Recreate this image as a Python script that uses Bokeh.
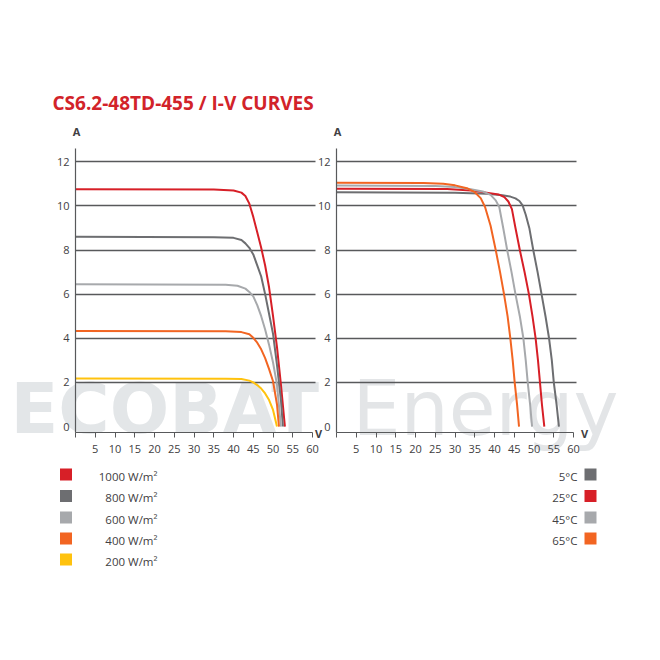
from bokeh.plotting import figure
from bokeh.models import FixedTicker, Label, BoxAnnotation, Range1d, LinearAxis, Grid
from bokeh.embed import file_html
from bokeh.resources import INLINE

# ---------------- data ----------------
title_text = "CS6.2-48TD-455 / I-V CURVES"
watermark_bold = "ECOBAT"
watermark_thin = "Energy"

irr_labels = ["1000 W/m\u00b2", "800 W/m\u00b2", "600 W/m\u00b2", "400 W/m\u00b2", "200 W/m\u00b2"]
irr_colors = ["#d71f27", "#6d6e71", "#a7a9ac", "#f26522", "#ffc20e"]

v_1000 = [0, 35, 40, 42, 43, 44, 45, 46, 47, 48, 49, 50, 51, 52, 53]
i_1000 = [10.75, 10.74, 10.7, 10.6, 10.45, 10.1, 9.5, 8.8, 8.1, 7.3, 6.3, 5.0, 3.6, 1.9, 0]
v_800 = [0, 35, 40, 42, 43, 44, 45, 46, 47, 48, 49, 50, 51, 52, 52.5]
i_800 = [8.6, 8.58, 8.55, 8.45, 8.3, 8.1, 7.8, 7.3, 6.8, 6.0, 5.1, 4.2, 2.8, 1.2, 0]
v_600 = [0, 38, 41, 43, 44, 45, 46, 47, 48, 49, 50, 51, 52]
i_600 = [6.45, 6.43, 6.38, 6.25, 6.1, 5.9, 5.5, 5.0, 4.4, 3.7, 2.9, 1.9, 0]
v_400 = [0, 38, 42, 44, 45, 46, 47, 48, 49, 50, 51, 51.5]
i_400 = [4.33, 4.32, 4.28, 4.18, 4.02, 3.8, 3.5, 3.1, 2.6, 2.05, 1.0, 0]
v_200 = [0, 38, 42, 44, 45, 46, 47, 48, 49, 50, 51]
i_200 = [2.18, 2.17, 2.15, 2.08, 2.0, 1.88, 1.72, 1.5, 1.2, 0.75, 0]
irr_v = [v_1000, v_800, v_600, v_400, v_200]
irr_i = [i_1000, i_800, i_600, i_400, i_200]

temp_labels = ["5\u00b0C", "25\u00b0C", "45\u00b0C", "65\u00b0C"]
temp_colors = ["#6d6e71", "#d71f27", "#a7a9ac", "#f26522"]

v_5 = [0, 30, 38, 42, 44, 45.3, 46.3, 47.1, 47.9, 48.8, 49.8, 50.9, 51.9, 52.9, 53.8, 54.5, 55.0, 55.7, 56.3]
i_5 = [10.62, 10.6, 10.55, 10.48, 10.42, 10.34, 10.22, 10.02, 9.6, 9.0, 8.0, 7.0, 6.0, 5.0, 4.0, 3.0, 2.0, 1.0, 0]
v_25 = [0, 28, 34, 38, 41, 42.5, 43.5, 44.4, 45.3, 46.4, 47.6, 48.7, 49.6, 50.4, 51.0, 51.5, 52.0, 52.6]
i_25 = [10.78, 10.76, 10.7, 10.6, 10.52, 10.4, 10.2, 9.85, 9.0, 8.0, 7.0, 6.0, 5.0, 4.0, 3.0, 2.0, 1.0, 0]
v_45 = [0, 25, 30, 34, 37, 39, 40.3, 41.2, 42.2, 43.2, 44.3, 45.3, 46.4, 47.3, 47.9, 48.4, 49.0, 49.5]
i_45 = [10.92, 10.9, 10.85, 10.75, 10.65, 10.5, 10.25, 9.95, 9.0, 8.0, 7.0, 6.0, 5.0, 4.0, 3.0, 2.0, 1.0, 0]
v_65 = [0, 22, 27, 30, 33, 35, 36.5, 37.6, 39, 40.3, 41.4, 42.4, 43.3, 44.0, 44.6, 45.1, 45.7, 46.2]
i_65 = [11.05, 11.04, 11.0, 10.93, 10.8, 10.62, 10.35, 9.95, 9.1, 8.0, 7.0, 6.0, 5.0, 4.0, 3.0, 2.0, 1.0, 0]
temp_v = [v_5, v_25, v_45, v_65]
temp_i = [i_5, i_25, i_45, i_65]

x_ticks = [0, 5, 10, 15, 20, 25, 30, 35, 40, 45, 50, 55, 60]
y_ticks = [0, 2, 4, 6, 8, 10, 12]
grid_ticks = [2, 4, 6, 8, 10, 12]

# ---------------- geometry / styling ----------------
FONT = "Open Sans"
TXT = "#414042"
GRID = "#58595b"
W, H = 656, 620
PANEL_TOP, PANEL_BOTTOM = 148, 432          # y-axis extent (px)
LEFT_AXIS_PX, RIGHT_AXIS_PX = 75, 336       # y-axis positions (px)
PANEL_W = 241                               # px for 61 volts
X_SPAN = 61
Y0, Y1 = -0.27, 12.6
XS = PANEL_W / X_SPAN
YS = (PANEL_BOTTOM - PANEL_TOP) / (Y1 - Y0)


def dx(px):
    return (px - LEFT_AXIS_PX) / XS


def dy(py):
    return Y0 + (PANEL_BOTTOM - py) / YS


p = figure(width=W, height=H, output_backend="svg", toolbar_location=None,
           x_axis_type=None, y_axis_type=None,
           x_range=Range1d(dx(0), dx(W)), y_range=Range1d(dy(H), dy(0)),
           min_border=0, min_border_left=0, min_border_right=0,
           min_border_top=0, min_border_bottom=0)
p.extra_x_ranges = {"r": Range1d((0 - RIGHT_AXIS_PX) / XS, (W - RIGHT_AXIS_PX) / XS)}
p.outline_line_color = None
p.background_fill_color = "white"
p.border_fill_color = "white"

# faint watermark behind everything
p.add_layout(Label(x=dx(10), y=dy(408), text=watermark_bold, text_font="DejaVu Sans",
                   text_font_size="70px", text_font_style="bold", text_color="#e3e6e8",
                   text_align="left", text_baseline="middle", level="underlay"))
p.add_layout(Label(x=dx(352), y=dy(408), text=watermark_thin,
                   text_font="DejaVu Sans ExtraLight, DejaVu Sans",
                   text_font_size="76px", text_color="#e3e5e7",
                   text_align="left", text_baseline="middle", level="underlay"))

has_cross = "cross_bounds" in Grid.properties()

for rname in ("default", "r"):
    g = Grid(dimension=1, ticker=FixedTicker(ticks=grid_ticks), x_range_name=rname,
             grid_line_color=GRID, grid_line_width=1.5)
    if has_cross:
        g.cross_bounds = (0, 60.8)
    p.add_layout(g)

    ya = LinearAxis(x_range_name=rname, fixed_location=0, bounds=(Y0, Y1),
                    ticker=FixedTicker(ticks=y_ticks))
    xa = LinearAxis(x_range_name=rname, fixed_location=Y0, bounds=(0, 60),
                    ticker=FixedTicker(ticks=x_ticks))
    xa.major_label_overrides = {0: ""}
    for ax in (xa, ya):
        ax.axis_line_color = GRID
        ax.axis_line_width = 1.2
        ax.major_tick_line_color = GRID
        ax.minor_tick_line_color = None
        ax.major_label_text_font = FONT
        ax.major_label_text_font_size = "11px"
        ax.major_label_text_color = TXT
    xa.major_tick_in = 0
    xa.major_tick_out = 5
    xa.major_label_standoff = 7
    ya.major_tick_in = 0
    ya.major_tick_out = 0
    ya.major_label_standoff = 6
    p.add_layout(ya, "left")
    p.add_layout(xa, "below")

for v, i, c in zip(irr_v, irr_i, irr_colors):
    p.line(v, i, line_color=c, line_width=2, line_join="round")
for v, i, c in zip(temp_v, temp_i, temp_colors):
    p.line(v, i, line_color=c, line_width=2, line_join="round", x_range_name="r")


def label(x, y, text, size="11px", bold=False, color=TXT, align="center", baseline="middle"):
    p.add_layout(Label(x=x, y=y, text=text, text_font=FONT, text_font_size=size,
                       text_font_style="bold" if bold else "normal", text_color=color,
                       text_align=align, text_baseline=baseline))


label(dx(52), dy(102), title_text, size="19px", bold=True, color="#d2232a", align="left")
label(dx(76), dy(131), "A", bold=True)
label(dx(337), dy(131), "A", bold=True)
label(dx(318), dy(433), "V", bold=True)
label(dx(584), dy(433), "V", bold=True)


def square(cx, cy, col):
    p.add_layout(BoxAnnotation(left=dx(cx - 6), right=dx(cx + 6), bottom=dy(cy + 6), top=dy(cy - 6),
                               fill_color=col, fill_alpha=1, line_color=None))


left_rows = [474, 495.5, 517, 538, 559]
for lab, col, yy in zip(irr_labels, irr_colors, left_rows):
    square(65.5, yy, col)
    label(dx(157), dy(yy + 1.5), lab, size="11.5px", align="right")

right_rows = [474, 495.5, 517, 538]
for lab, col, yy in zip(temp_labels, temp_colors, right_rows):
    square(590, yy, col)
    label(dx(577), dy(yy + 1.5), lab, size="11.5px", align="right")

open("out.html", "w").write(file_html(p, INLINE))
